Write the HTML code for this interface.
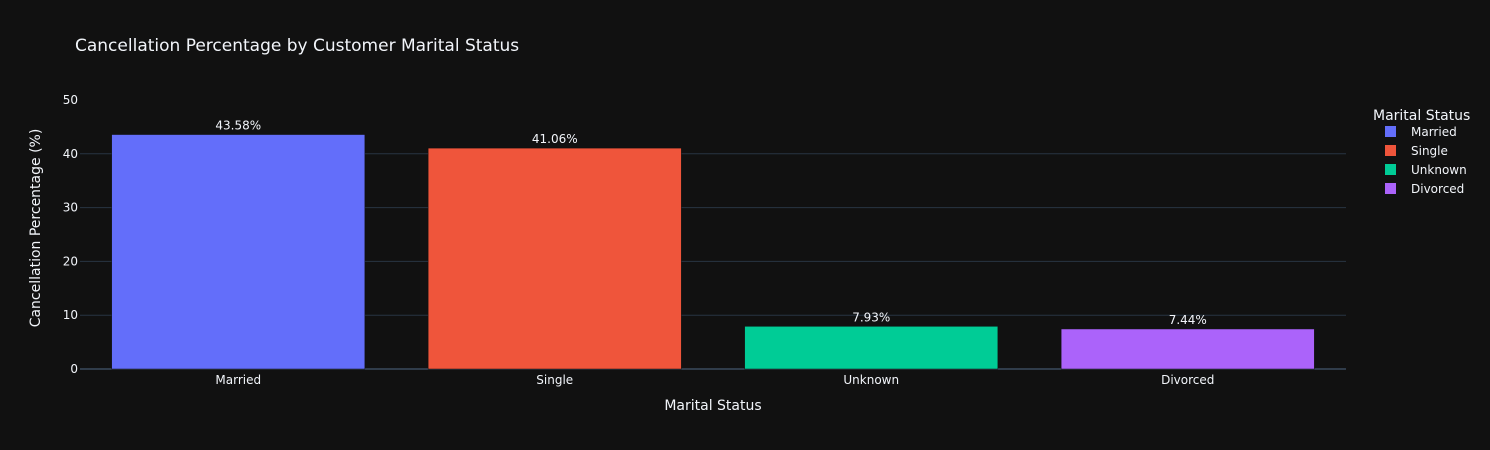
<!DOCTYPE html>
<html><head><meta charset="utf-8"><style>
body{margin:0;background:#111111;}
svg{display:block;font-family:"DejaVu Sans","Liberation Sans",sans-serif;}
</style></head><body>
<svg id="chart" width="1490" height="450">
<rect width="1490" height="450" fill="#111111"/>
<text x="75" y="51" fill="#f2f5fa" font-size="17">Cancellation Percentage by Customer Marital Status</text>
<g id="grid"></g>
<g id="bars"></g>
<g id="labels"></g>
<text x="713" y="410" fill="#f2f5fa" font-size="14" text-anchor="middle">Marital Status</text>
<text transform="translate(40,228) rotate(-90)" fill="#f2f5fa" font-size="14" text-anchor="middle">Cancellation Percentage (%)</text>
<g id="legend">
<text x="1373" y="120" fill="#f2f5fa" font-size="14">Marital Status</text>
</g>
</svg>
<script>
const categories=["Married","Single","Unknown","Divorced"];
const values=[43.58,41.06,7.93,7.44];
const colors=["#636efa","#ef553b","#00cc96","#ab63fa"];
const yTicks=[0,10,20,30,40,50];
const ns="http://www.w3.org/2000/svg";
const x0=80,x1=1346,y0=369,yTop=100,yMax=50;
const y=v=>y0-(v/yMax)*(y0-yTop);
const band=(x1-x0)/categories.length;
const xc=i=>x0+band*(i+0.5);
function mk(tag,attrs,parent){const e=document.createElementNS(ns,tag);for(const k in attrs)e.setAttribute(k,attrs[k]);parent.appendChild(e);return e;}
const grid=document.getElementById('grid'),bars=document.getElementById('bars'),labels=document.getElementById('labels'),legend=document.getElementById('legend');
yTicks.forEach(t=>{
  if(t>0&&t<yMax){const l=mk('line',{x1:x0,x2:x1,y1:y(t),y2:y(t),stroke:'#283442','stroke-width':1},grid);
  
  }
  const tx=mk('text',{x:x0-2,y:y(t)+4,fill:'#f2f5fa','font-size':12,'text-anchor':'end'},grid);
  tx.textContent=t;
  
  
});
const bw=band*0.8;
categories.forEach((c,i)=>{
  const r=mk('rect',{x:xc(i)-bw/2,y:y(values[i]),width:bw,height:y0-y(values[i]),fill:colors[i],stroke:'#111111','stroke-width':0.5},bars);
  
  
  const v=mk('text',{x:xc(i),y:y(values[i])-5,fill:'#f2f5fa','font-size':12,'text-anchor':'middle'},labels);
  v.textContent=values[i].toFixed(2)+'%';
  
  
  const xl=mk('text',{x:xc(i),y:y0+15,fill:'#f2f5fa','font-size':12,'text-anchor':'middle'},labels);
  xl.textContent=c;
  
  
  const g=mk('g',{},legend);
  
  
  const ly=132+19*i;
  mk('rect',{x:1385,y:ly-6,width:11,height:11,fill:colors[i]},g);
  const lt=mk('text',{x:1411,y:ly+4,fill:'#f2f5fa','font-size':12},g);
  lt.textContent=c;
});
const ax=mk('line',{x1:x0,x2:x1,y1:y0,y2:y0,stroke:'#506784','stroke-width':1},grid);


</script>
</body></html>
